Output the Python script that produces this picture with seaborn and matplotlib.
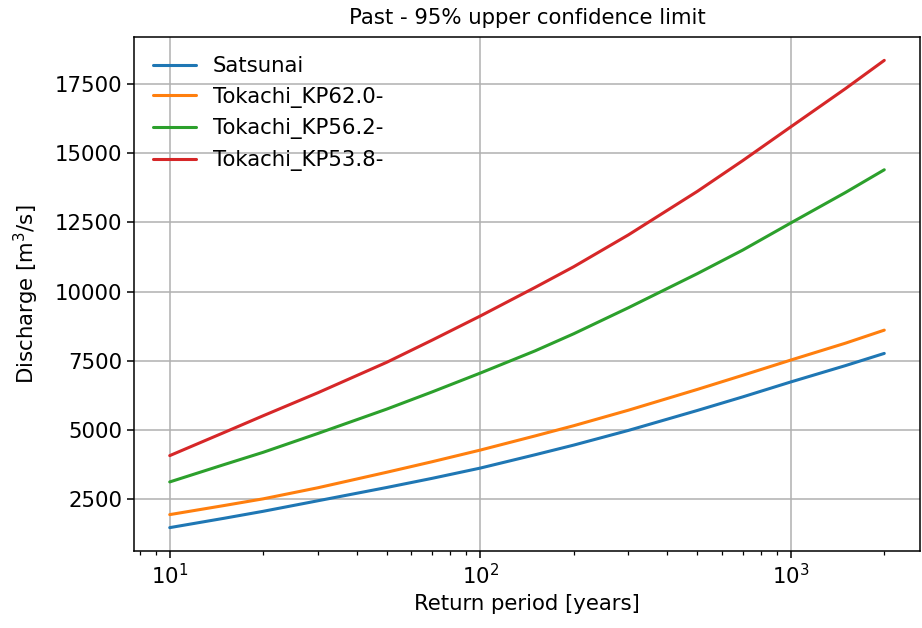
import numpy as np
import pandas as pd
import matplotlib
matplotlib.use("Agg")
import matplotlib.pyplot as plt
import seaborn as sns

return_period = [10, 15, 20, 30, 50, 70, 100, 150, 200, 300, 500, 700, 1000, 1500, 2000]
satsunai = [1480, 1820, 2070, 2450, 2930, 3260, 3630, 4110, 4460, 4990, 5710, 6200, 6740, 7330, 7770]
kp62 = [1950, 2280, 2520, 2920, 3480, 3860, 4280, 4790, 5160, 5720, 6470, 6980, 7530, 8140, 8610]
kp56 = [3130, 3760, 4200, 4880, 5760, 6380, 7060, 7860, 8480, 9420, 10650, 11500, 12480, 13580, 14400]
kp53 = [4080, 4920, 5520, 6350, 7450, 8250, 9120, 10150, 10900, 12050, 13620, 14730, 15950, 17330, 18350]
series_names = ["Satsunai", "Tokachi_KP62.0-", "Tokachi_KP56.2-", "Tokachi_KP53.8-"]

frames = []
for name, vals in zip(series_names, [satsunai, kp62, kp56, kp53]):
    frames.append(pd.DataFrame({"T": return_period, "Q": vals, "site": name}))
df = pd.concat(frames, ignore_index=True)

sns.set_style("ticks")
plt.rcParams["font.family"] = ["DejaVu Sans"]
for k in ["text.color", "axes.labelcolor", "xtick.color", "ytick.color"]:
    plt.rcParams[k] = "black"
fs = 15.3

fig = plt.figure(figsize=(9.22, 6.28), dpi=100)
ax = fig.add_axes([134 / 922, (628 - 551) / 628, (920 - 134) / 922, (551 - 37) / 628])
sns.lineplot(data=df, x="T", y="Q", hue="site", hue_order=series_names,
             palette=sns.color_palette("tab10", 4), linewidth=2.2, ax=ax)
ax.set_xscale("log")
ax.margins(x=0.05, y=0.05)
ax.grid(True, which="major", color="#b0b0b0", linewidth=1.1)
ax.set_axisbelow(True)
for s in ax.spines.values():
    s.set_color("black")
    s.set_linewidth(1.1)
ax.tick_params(axis="both", which="major", labelsize=fs, length=5, width=1.1,
               color="black", labelcolor="black")
ax.tick_params(axis="x", which="minor", length=3, width=0.9, color="black")
ax.set_xlabel("Return period [years]", fontsize=fs, color="black")
ax.set_ylabel("Discharge [m$^3$/s]", fontsize=fs, color="black", labelpad=10)
ax.set_title("Past - 95% upper confidence limit", fontsize=fs, pad=9, color="black")
leg = ax.legend(loc="upper left", frameon=False, fontsize=fs, handlelength=2.0,
                labelspacing=0.5)
for line in leg.get_lines():
    line.set_linewidth(2.2)
for t in leg.get_texts():
    t.set_color("black")
fig.savefig("out.png", dpi=100, facecolor="white")
